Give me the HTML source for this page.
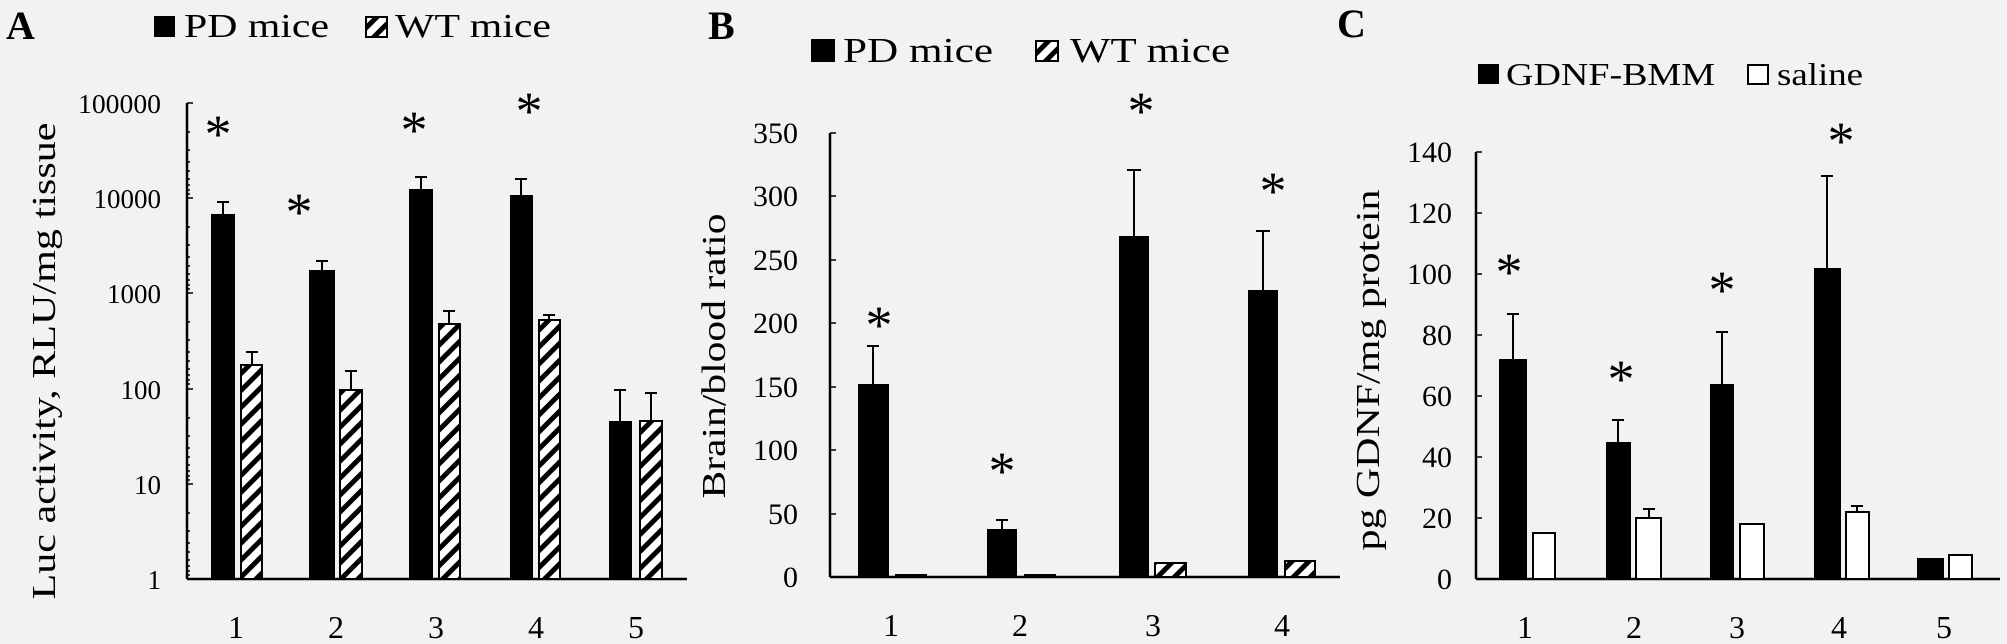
<!DOCTYPE html>
<html><head><meta charset="utf-8"><style>
html,body{margin:0;padding:0;background:#f2f2f2}
svg{display:block}
text{font-family:"Liberation Serif",serif;fill:#000}
</style></head><body>
<svg width="2007" height="644" viewBox="0 0 2007 644" xmlns="http://www.w3.org/2000/svg">
<defs>
<pattern id="hatch" patternUnits="userSpaceOnUse" width="12" height="12" patternTransform="rotate(45)">
<rect width="12" height="12" fill="#fff"/><rect x="0" y="0" width="5" height="12" fill="#000"/>
</pattern>
</defs>
<rect width="2007" height="644" fill="#f2f2f2"/>

<!-- Panel A -->
<text x="6" y="39" font-size="40" font-weight="bold">A</text>
<rect x="154" y="16" width="21" height="21" fill="#000"/>
<text x="184" y="37" font-size="34" textLength="145" lengthAdjust="spacingAndGlyphs">PD mice</text>
<rect x="366" y="17" width="21" height="20" fill="url(#hatch)" stroke="#000" stroke-width="2"/>
<text x="395" y="37" font-size="34" textLength="156" lengthAdjust="spacingAndGlyphs">WT mice</text>
<g font-size="27" text-anchor="end">
<text x="161" y="113" textLength="83" lengthAdjust="spacingAndGlyphs">100000</text><text x="161" y="208">10000</text><text x="161" y="303">1000</text>
<text x="161" y="399">100</text><text x="161" y="494">10</text><text x="161" y="589">1</text>
</g>
<text transform="translate(55,361) rotate(-90)" font-size="34" text-anchor="middle" textLength="477" lengthAdjust="spacingAndGlyphs">Luc activity, RLU/mg tissue</text>
<g stroke="#000" stroke-width="2.5" fill="none">
<line x1="187" y1="103" x2="187" y2="579"/><line x1="187" y1="579" x2="687" y2="579"/>
</g>
<g stroke="#000" stroke-width="1.5">
<path d="M187 103h6M187 198h6M187 293h6M187 389h6M187 484h6"/>
<path d="M187 132h3M187 150h3M187 162h3M187 171h3M187 179h3M187 185h3M187 190h3M187 194h3
M187 227h3M187 245h3M187 257h3M187 266h3M187 274h3M187 280h3M187 285h3M187 289h3
M187 322h3M187 340h3M187 352h3M187 361h3M187 369h3M187 375h3M187 380h3M187 384h3
M187 418h3M187 436h3M187 448h3M187 457h3M187 465h3M187 471h3M187 476h3M187 480h3
M187 513h3M187 531h3M187 543h3M187 552h3M187 560h3M187 566h3M187 571h3M187 575h3"/>
</g>
<g stroke="#000" stroke-width="2" fill="#000">
<line x1="223" y1="214" x2="223" y2="202"/><line x1="217" y1="202" x2="229" y2="202"/>
<line x1="252" y1="365" x2="252" y2="352"/><line x1="246" y1="352" x2="258" y2="352"/>
<line x1="322" y1="270" x2="322" y2="261"/><line x1="316" y1="261" x2="328" y2="261"/>
<line x1="351" y1="390" x2="351" y2="371"/><line x1="345" y1="371" x2="357" y2="371"/>
<line x1="421" y1="189" x2="421" y2="177"/><line x1="415" y1="177" x2="427" y2="177"/>
<line x1="449" y1="324" x2="449" y2="311"/><line x1="443" y1="311" x2="455" y2="311"/>
<line x1="521" y1="195" x2="521" y2="179"/><line x1="515" y1="179" x2="527" y2="179"/>
<line x1="549" y1="320" x2="549" y2="315"/><line x1="543" y1="315" x2="555" y2="315"/>
<line x1="620" y1="421" x2="620" y2="390"/><line x1="614" y1="390" x2="626" y2="390"/>
<line x1="651" y1="421" x2="651" y2="393"/><line x1="645" y1="393" x2="657" y2="393"/>
</g>
<g fill="#000">
<rect x="211" y="214" width="24" height="365"/><rect x="309" y="270" width="26" height="309"/>
<rect x="409" y="189" width="24" height="390"/><rect x="510" y="195" width="23" height="384"/>
<rect x="609" y="421" width="23" height="158"/>
</g>
<g fill="url(#hatch)" stroke="#000" stroke-width="2">
<rect x="241" y="365" width="21" height="214"/><rect x="340" y="390" width="22" height="189"/>
<rect x="439" y="324" width="21" height="255"/><rect x="539" y="320" width="21" height="259"/>
<rect x="640" y="421" width="22" height="158"/>
</g>
<g font-size="54" text-anchor="middle">
<text x="218" y="152">*</text><text x="299" y="230">*</text><text x="414" y="148">*</text><text x="529" y="129">*</text>
</g>
<g font-size="32" text-anchor="middle">
<text x="236" y="638">1</text><text x="336" y="638">2</text><text x="436" y="638">3</text><text x="536" y="638">4</text><text x="636" y="638">5</text>
</g>

<!-- Panel B -->
<text x="708" y="39" font-size="40" font-weight="bold">B</text>
<rect x="811" y="39" width="24" height="23" fill="#000"/>
<text x="843" y="62" font-size="35" textLength="150" lengthAdjust="spacingAndGlyphs">PD mice</text>
<rect x="1036" y="41" width="22" height="20" fill="url(#hatch)" stroke="#000" stroke-width="2"/>
<text x="1070" y="62" font-size="35" textLength="160" lengthAdjust="spacingAndGlyphs">WT mice</text>
<g font-size="30" text-anchor="end">
<text x="798" y="143">350</text><text x="798" y="206">300</text><text x="798" y="270">250</text>
<text x="798" y="333">200</text><text x="798" y="397">150</text><text x="798" y="460">100</text>
<text x="798" y="524">50</text><text x="798" y="587">0</text>
</g>
<text transform="translate(725,356) rotate(-90)" font-size="34" text-anchor="middle" textLength="285" lengthAdjust="spacingAndGlyphs">Brain/blood ratio</text>
<g stroke="#000" stroke-width="2.5" fill="none">
<line x1="830" y1="133" x2="830" y2="577"/><line x1="830" y1="577" x2="1340" y2="577"/>
<path d="M830 133h6M830 196h6M830 260h6M830 323h6M830 387h6M830 450h6M830 514h6" stroke-width="1.5"/>
</g>
<g stroke="#000" stroke-width="2">
<line x1="873" y1="384" x2="873" y2="346"/><line x1="867" y1="346" x2="879" y2="346"/>
<line x1="1002" y1="529" x2="1002" y2="520"/><line x1="996" y1="520" x2="1008" y2="520"/>
<line x1="1134" y1="236" x2="1134" y2="170"/><line x1="1127" y1="170" x2="1141" y2="170"/>
<line x1="1263" y1="290" x2="1263" y2="231"/><line x1="1256" y1="231" x2="1270" y2="231"/>
</g>
<g fill="#000">
<rect x="858" y="384" width="31" height="193"/><rect x="987" y="529" width="30" height="48"/>
<rect x="1119" y="236" width="30" height="341"/><rect x="1248" y="290" width="30" height="287"/>
</g>
<g fill="url(#hatch)" stroke="#000" stroke-width="2">
<rect x="896" y="575" width="30" height="2"/><rect x="1025" y="575" width="30" height="2"/>
<rect x="1155" y="563" width="31" height="14"/><rect x="1285" y="561" width="30" height="16"/>
</g>
<g font-size="54" text-anchor="middle">
<text x="879" y="343">*</text><text x="1002" y="489">*</text><text x="1141" y="129">*</text><text x="1273" y="209">*</text>
</g>
<g font-size="32" text-anchor="middle">
<text x="891" y="636">1</text><text x="1020" y="636">2</text><text x="1153" y="636">3</text><text x="1282" y="636">4</text>
</g>

<!-- Panel C -->
<text x="1337" y="37" font-size="40" font-weight="bold">C</text>
<rect x="1478" y="64" width="21" height="20" fill="#000"/>
<text x="1506" y="85" font-size="32" textLength="209" lengthAdjust="spacingAndGlyphs">GDNF-BMM</text>
<rect x="1748" y="65" width="20" height="19" fill="#fff" stroke="#000" stroke-width="2"/>
<text x="1777" y="85" font-size="32" textLength="86" lengthAdjust="spacingAndGlyphs">saline</text>
<g font-size="30" text-anchor="end">
<text x="1452" y="162">140</text><text x="1452" y="223">120</text><text x="1452" y="284">100</text>
<text x="1452" y="345">80</text><text x="1452" y="406">60</text><text x="1452" y="467">40</text>
<text x="1452" y="528">20</text><text x="1452" y="589">0</text>
</g>
<text transform="translate(1379,370) rotate(-90)" font-size="34" text-anchor="middle" textLength="361" lengthAdjust="spacingAndGlyphs">pg GDNF/mg  protein</text>
<g stroke="#000" stroke-width="2.5" fill="none">
<line x1="1476" y1="152" x2="1476" y2="579"/><line x1="1476" y1="579" x2="2000" y2="579"/>
<path d="M1476 152h6M1476 213h6M1476 274h6M1476 335h6M1476 396h6M1476 457h6M1476 518h6" stroke-width="1.5"/>
</g>
<g stroke="#000" stroke-width="2">
<line x1="1513" y1="359" x2="1513" y2="314"/><line x1="1507" y1="314" x2="1519" y2="314"/>
<line x1="1618" y1="442" x2="1618" y2="420"/><line x1="1612" y1="420" x2="1624" y2="420"/>
<line x1="1649" y1="518" x2="1649" y2="509"/><line x1="1643" y1="509" x2="1655" y2="509"/>
<line x1="1722" y1="384" x2="1722" y2="332"/><line x1="1716" y1="332" x2="1728" y2="332"/>
<line x1="1827" y1="268" x2="1827" y2="176"/><line x1="1821" y1="176" x2="1833" y2="176"/>
<line x1="1857" y1="512" x2="1857" y2="506"/><line x1="1851" y1="506" x2="1863" y2="506"/>
</g>
<g fill="#000">
<rect x="1499" y="359" width="28" height="220"/><rect x="1606" y="442" width="25" height="137"/>
<rect x="1710" y="384" width="24" height="195"/><rect x="1814" y="268" width="27" height="311"/>
<rect x="1917" y="558" width="27" height="21"/>
</g>
<g fill="#fff" stroke="#000" stroke-width="2">
<rect x="1533" y="533" width="22" height="46"/><rect x="1636" y="518" width="25" height="61"/>
<rect x="1740" y="524" width="24" height="55"/><rect x="1846" y="512" width="23" height="67"/>
<rect x="1949" y="555" width="23" height="24"/>
</g>
<g font-size="54" text-anchor="middle">
<text x="1509" y="290">*</text><text x="1621" y="397">*</text><text x="1722" y="308">*</text><text x="1841" y="159">*</text>
</g>
<g font-size="32" text-anchor="middle">
<text x="1525" y="638">1</text><text x="1634" y="638">2</text><text x="1737" y="638">3</text><text x="1839" y="638">4</text><text x="1944" y="638">5</text>
</g>
</svg>
</body></html>
